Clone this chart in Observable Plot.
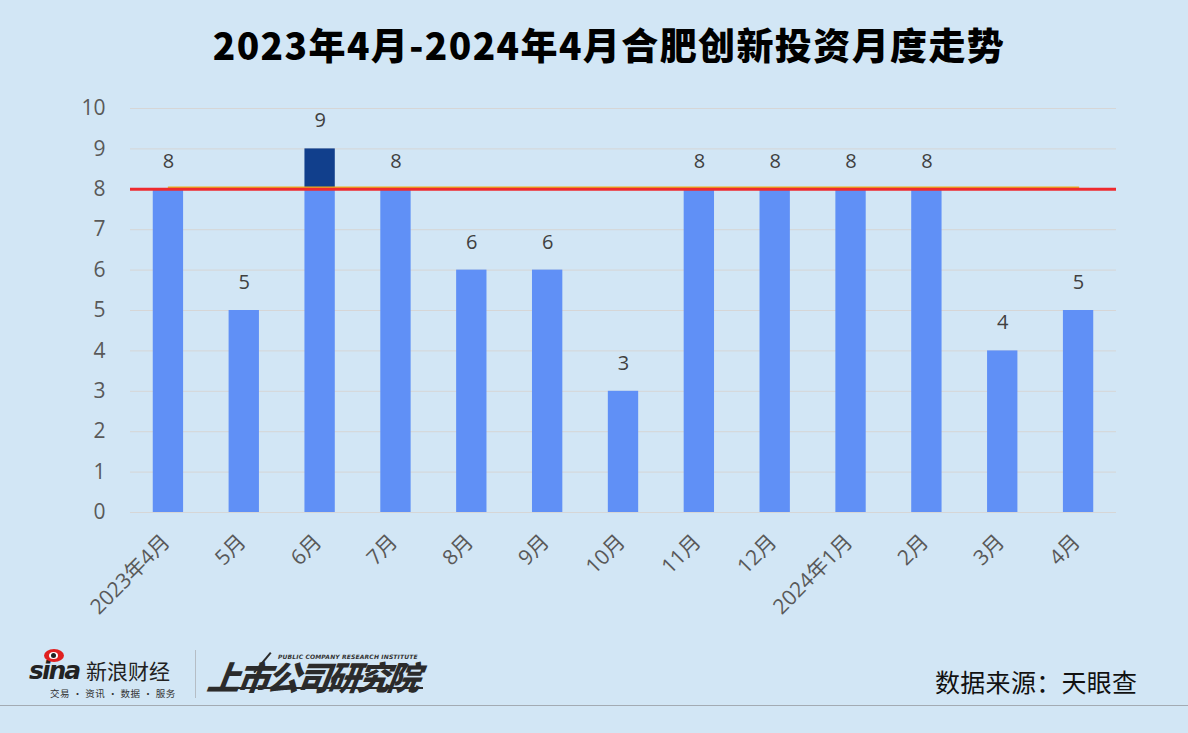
<!DOCTYPE html>
<html>
<head>
<meta charset="utf-8">
<script src="https://cdn.jsdelivr.net/npm/d3@7"></script>
<script src="https://cdn.jsdelivr.net/npm/@observablehq/plot@0.6"></script>
<style>
  html, body { margin: 0; padding: 0; }
  body { width: 1188px; height: 733px; background: #D2E6F5; position: relative; overflow: hidden;
         font-family: "Noto Sans CJK SC", "Noto Sans", sans-serif; }
  #title { position: absolute; left: 0; top: 20px; width: 1188px; text-align: center; padding-left: 30px; box-sizing: border-box;
           font-size: 37px; font-weight: 900; color: #000; letter-spacing: 1.4px; line-height: 48px; white-space: nowrap; }
  #chart { position: absolute; left: 0; top: 90px; }
  #source { position: absolute; left: 935px; top: 665px; font-size: 25px; color: #111; line-height: 32px; letter-spacing: 0.3px; }
  #hr { position: absolute; left: 0; top: 705px; width: 1188px; height: 1px; background: #A3ABB3; }
  #sina { position: absolute; left: 29px; top: 648px; width: 160px; height: 50px; }
  #sep { position: absolute; left: 195px; top: 650px; width: 1px; height: 48px; background: #B5BDC5; }
  #inst { position: absolute; left: 208px; top: 650px; width: 230px; height: 50px; }
</style>
</head>
<body>
<div id="title">2023年4月-2024年4月合肥创新投资月度走势</div>
<div id="chart"></div>
<div id="sina">
  <div style="position:absolute;left:0;top:12px;font:italic 900 25px 'DejaVu Sans',sans-serif;color:#222;letter-spacing:-2px;line-height:22px;">sina</div>
  <div style="position:absolute;left:15px;top:1px;width:20px;height:13px;border-radius:50%;background:#E02020;"></div>
  <div style="position:absolute;left:20px;top:4px;width:9px;height:7px;border-radius:50%;background:#fff;"></div>
  <div style="position:absolute;left:22px;top:5px;width:5px;height:5px;border-radius:50%;background:#222;"></div>
  <div style="position:absolute;left:57px;top:12px;font-size:21px;color:#222;line-height:20px;">新浪财经</div>
  <div style="position:absolute;left:21px;top:40px;font-size:9.5px;color:#333;line-height:10px;white-space:nowrap;letter-spacing:0.5px;">交易 · 资讯 · 数据 · 服务</div>
</div>
<div id="sep"></div>
<div id="inst">
  <div style="position:absolute;left:70px;top:3px;font:italic 700 6px 'DejaVu Sans',sans-serif;color:#333;white-space:nowrap;letter-spacing:0.15px;line-height:7px;">PUBLIC COMPANY RESEARCH INSTITUTE</div>
  <div style="position:absolute;left:62px;top:2px;width:2px;height:26px;background:#2b2b2b;transform:rotate(40deg);transform-origin:top left;"></div>
  <div style="position:absolute;left:0;top:6px;font-size:33px;font-weight:900;font-style:italic;color:#2b2b2b;line-height:40px;letter-spacing:-3px;white-space:nowrap;transform:skewX(-8deg);">上市公司研究院</div>
  <div style="position:absolute;left:1px;top:37px;width:214px;height:2px;background:#2b2b2b;"></div>
</div>
<div id="source">数据来源：天眼查</div>
<div id="hr"></div>
<script>
const months = ["2023年4月","5月","6月","7月","8月","9月","10月","11月","12月","2024年1月","2月","3月","4月"];
const counts = [8, 5, 9, 8, 6, 6, 3, 8, 8, 8, 8, 4, 5];
const threshold = 8;
const yTicks = [0,1,2,3,4,5,6,7,8,9,10];

const data = months.map((m, i) => ({month: m, value: counts[i], base: Math.min(counts[i], threshold)}));
const over = data.filter(d => d.value > threshold);

const fontFam = "'Open Sans','Noto Sans CJK SC',sans-serif";

const plot = Plot.plot({
  width: 1188,
  height: 550,
  marginTop: 18,
  marginBottom: 128,
  marginLeft: 130,
  marginRight: 72,
  style: {background: "transparent", fontFamily: fontFam},
  x: {domain: months, paddingInner: 0.6, paddingOuter: 0.3, round: false, label: null},
  y: {domain: [0, 10], label: null},
  marks: [
    Plot.gridY(yTicks, {stroke: "#D6D6D6", strokeOpacity: 1, strokeWidth: 1}),
    Plot.barY(data, {x: "month", y: "base", fill: "#6090F6"}),
    Plot.barY(over, {x: "month", y1: threshold, y2: "value", fill: "#113F8C"}),
    Plot.lineY(data, {x: "month", y: () => threshold, stroke: "#E8B020", strokeWidth: 1.5, dy: -2}),
    Plot.ruleY([threshold], {stroke: "#EE2A2E", strokeWidth: 3}),
    Plot.text(data, {x: "month", y: "value", text: d => String(d.value), dy: -28, fontSize: 20, fill: "#404040", fontFamily: fontFam}),
    Plot.axisY(yTicks, {tickSize: 0, tickPadding: 25, fontSize: 21, fill: "#595959", label: null, fontFamily: fontFam}),
    Plot.axisX({tickRotate: -45, tickSize: 0, tickPadding: 26, dx: -2, fontSize: 21, fill: "#595959", label: null, fontFamily: fontFam})
  ]
});
document.getElementById("chart").appendChild(plot);
</script>
</body>
</html>
